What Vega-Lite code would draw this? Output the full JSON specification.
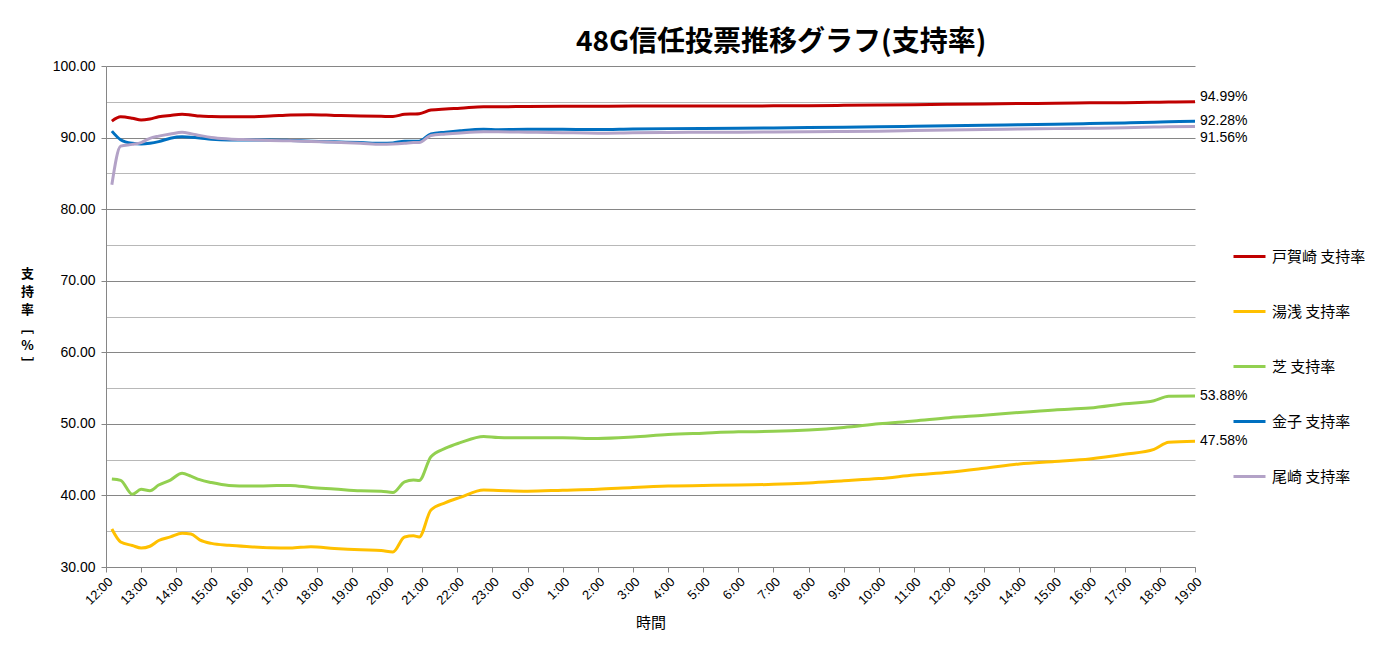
{
  "$schema": "https://vega.github.io/schema/vega-lite/v6.json",
  "width": 1089,
  "height": 501,
  "autosize": {"type": "none"},
  "padding": {"left": 106, "top": 66, "right": 189, "bottom": 85},
  "background": "white",
  "title": {
    "text": "48G信任投票推移グラフ(支持率)",
    "font": "Noto Sans CJK JP",
    "fontSize": 28,
    "fontWeight": "bold",
    "color": "#000000",
    "anchor": "start",
    "frame": "group",
    "dx": 470,
    "offset": 2
  },
  "config": {
    "view": {"stroke": null}
  },
  "datasets": {
    "votes": [
      {"t": "2013-06-08T12:10", "tg": 92.3, "yu": 35.3, "sh": 42.3, "ka": 90.9, "oz": 83.4},
      {"t": "2013-06-08T12:25", "tg": 92.9, "yu": 33.5, "sh": 42.1, "ka": 89.7, "oz": 88.8},
      {"t": "2013-06-08T12:45", "tg": 92.7, "yu": 33.0, "sh": 40.15, "ka": 89.2, "oz": 89.05},
      {"t": "2013-06-08T13:00", "tg": 92.45, "yu": 32.65, "sh": 40.85, "ka": 89.1, "oz": 89.3},
      {"t": "2013-06-08T13:15", "tg": 92.6, "yu": 32.9, "sh": 40.66, "ka": 89.2, "oz": 89.9},
      {"t": "2013-06-08T13:30", "tg": 92.9, "yu": 33.7, "sh": 41.45, "ka": 89.43, "oz": 90.2},
      {"t": "2013-06-08T13:50", "tg": 93.1, "yu": 34.2, "sh": 42.15, "ka": 89.9, "oz": 90.5},
      {"t": "2013-06-08T14:10", "tg": 93.25, "yu": 34.7, "sh": 43.1, "ka": 90.1, "oz": 90.73},
      {"t": "2013-06-08T14:25", "tg": 93.15, "yu": 34.6, "sh": 42.7, "ka": 90.05, "oz": 90.55},
      {"t": "2013-06-08T14:40", "tg": 93.0, "yu": 33.8, "sh": 42.2, "ka": 89.95, "oz": 90.3},
      {"t": "2013-06-08T15:00", "tg": 92.95, "yu": 33.3, "sh": 41.8, "ka": 89.75, "oz": 90.0},
      {"t": "2013-06-08T15:30", "tg": 92.92, "yu": 33.03, "sh": 41.4, "ka": 89.66, "oz": 89.8},
      {"t": "2013-06-08T16:05", "tg": 92.9, "yu": 32.84, "sh": 41.3, "ka": 89.66, "oz": 89.7},
      {"t": "2013-06-08T16:40", "tg": 93.0, "yu": 32.7, "sh": 41.35, "ka": 89.66, "oz": 89.6},
      {"t": "2013-06-08T17:15", "tg": 93.15, "yu": 32.65, "sh": 41.4, "ka": 89.6, "oz": 89.55},
      {"t": "2013-06-08T17:50", "tg": 93.2, "yu": 32.84, "sh": 41.1, "ka": 89.5, "oz": 89.45},
      {"t": "2013-06-08T18:30", "tg": 93.1, "yu": 32.6, "sh": 40.9, "ka": 89.4, "oz": 89.35},
      {"t": "2013-06-08T19:15", "tg": 93.0, "yu": 32.4, "sh": 40.66, "ka": 89.3, "oz": 89.2},
      {"t": "2013-06-08T19:50", "tg": 92.97, "yu": 32.3, "sh": 40.6, "ka": 89.2, "oz": 89.06},
      {"t": "2013-06-08T20:10", "tg": 92.95, "yu": 32.1, "sh": 40.4, "ka": 89.25, "oz": 89.1},
      {"t": "2013-06-08T20:30", "tg": 93.25, "yu": 34.2, "sh": 41.9, "ka": 89.5, "oz": 89.2},
      {"t": "2013-06-08T20:45", "tg": 93.3, "yu": 34.35, "sh": 42.15, "ka": 89.5, "oz": 89.3},
      {"t": "2013-06-08T20:55", "tg": 93.34, "yu": 34.2, "sh": 42.1, "ka": 89.5, "oz": 89.3},
      {"t": "2013-06-08T21:15", "tg": 93.85, "yu": 37.96, "sh": 45.4, "ka": 90.5, "oz": 90.3},
      {"t": "2013-06-08T21:40", "tg": 94.0, "yu": 39.0, "sh": 46.6, "ka": 90.75, "oz": 90.5},
      {"t": "2013-06-08T22:05", "tg": 94.1, "yu": 39.73, "sh": 47.37, "ka": 90.95, "oz": 90.65},
      {"t": "2013-06-08T22:45", "tg": 94.3, "yu": 40.76, "sh": 48.25, "ka": 91.15, "oz": 90.8},
      {"t": "2013-06-08T23:10", "tg": 94.3, "yu": 40.7, "sh": 48.1, "ka": 91.1, "oz": 90.8},
      {"t": "2013-06-09T00:00", "tg": 94.35, "yu": 40.6, "sh": 48.05, "ka": 91.15, "oz": 90.75},
      {"t": "2013-06-09T01:00", "tg": 94.38, "yu": 40.72, "sh": 48.05, "ka": 91.15, "oz": 90.68},
      {"t": "2013-06-09T02:00", "tg": 94.38, "yu": 40.85, "sh": 47.95, "ka": 91.12, "oz": 90.62},
      {"t": "2013-06-09T03:00", "tg": 94.4, "yu": 41.1, "sh": 48.15, "ka": 91.2, "oz": 90.68},
      {"t": "2013-06-09T04:00", "tg": 94.4, "yu": 41.3, "sh": 48.5, "ka": 91.25, "oz": 90.72},
      {"t": "2013-06-09T05:00", "tg": 94.42, "yu": 41.4, "sh": 48.7, "ka": 91.28, "oz": 90.75},
      {"t": "2013-06-09T06:00", "tg": 94.42, "yu": 41.45, "sh": 48.88, "ka": 91.3, "oz": 90.75},
      {"t": "2013-06-09T07:00", "tg": 94.43, "yu": 41.55, "sh": 48.95, "ka": 91.35, "oz": 90.78},
      {"t": "2013-06-09T08:00", "tg": 94.45, "yu": 41.75, "sh": 49.15, "ka": 91.4, "oz": 90.8},
      {"t": "2013-06-09T09:00", "tg": 94.5, "yu": 42.05, "sh": 49.5, "ka": 91.45, "oz": 90.85},
      {"t": "2013-06-09T10:00", "tg": 94.55, "yu": 42.35, "sh": 50.0, "ka": 91.5, "oz": 90.9},
      {"t": "2013-06-09T11:00", "tg": 94.6, "yu": 42.85, "sh": 50.4, "ka": 91.58, "oz": 90.98},
      {"t": "2013-06-09T12:00", "tg": 94.65, "yu": 43.25, "sh": 50.85, "ka": 91.65, "oz": 91.05},
      {"t": "2013-06-09T13:00", "tg": 94.7, "yu": 43.8, "sh": 51.2, "ka": 91.72, "oz": 91.12},
      {"t": "2013-06-09T14:00", "tg": 94.75, "yu": 44.4, "sh": 51.6, "ka": 91.8, "oz": 91.2},
      {"t": "2013-06-09T15:00", "tg": 94.8, "yu": 44.75, "sh": 51.95, "ka": 91.85, "oz": 91.25},
      {"t": "2013-06-09T16:00", "tg": 94.85, "yu": 45.1, "sh": 52.2, "ka": 91.95, "oz": 91.3},
      {"t": "2013-06-09T17:00", "tg": 94.88, "yu": 45.75, "sh": 52.8, "ka": 92.05, "oz": 91.38},
      {"t": "2013-06-09T17:50", "tg": 94.93, "yu": 46.44, "sh": 53.24, "ka": 92.15, "oz": 91.47},
      {"t": "2013-06-09T18:15", "tg": 94.96, "yu": 47.42, "sh": 53.85, "ka": 92.22, "oz": 91.52},
      {"t": "2013-06-09T19:00", "tg": 94.99, "yu": 47.58, "sh": 53.88, "ka": 92.28, "oz": 91.56}
    ],
    "ends": [
      {"t": "2013-06-09T19:00", "series": "tg", "value": 94.99, "label": "94.99%"},
      {"t": "2013-06-09T19:00", "series": "yu", "value": 47.58, "label": "47.58%"},
      {"t": "2013-06-09T19:00", "series": "sh", "value": 53.88, "label": "53.88%"},
      {"t": "2013-06-09T19:00", "series": "ka", "value": 92.28, "label": "92.28%"},
      {"t": "2013-06-09T19:00", "series": "oz", "value": 91.56, "label": "91.56%"}
    ]
  },
  "encoding": {
    "x": {
      "field": "t",
      "type": "temporal",
      "scale": {
        "domain": [
          {"year": 2013, "month": 6, "date": 8, "hours": 12},
          {"year": 2013, "month": 6, "date": 9, "hours": 19}
        ]
      },
      "axis": {
        "title": "時間",
        "titleFont": "Noto Sans CJK JP",
        "titleFontSize": 15,
        "titleFontWeight": "normal",
        "titleColor": "#000000",
        "titlePadding": 8,
        "format": "%-H:%M",
        "tickCount": 31,
        "labelAngle": -45,
        "labelAlign": "right",
        "labelBaseline": "top",
        "labelPadding": 3,
        "labelFontSize": 13,
        "labelColor": "#000000",
        "labelOverlap": false,
        "labelFlush": false,
        "grid": false,
        "domainColor": "#868686",
        "tickColor": "#868686",
        "tickSize": 5
      }
    },
    "y": {
      "field": "value",
      "type": "quantitative",
      "scale": {"domain": [30, 100], "nice": false},
      "axis": {
        "values": [30, 35, 40, 45, 50, 55, 60, 65, 70, 75, 80, 85, 90, 95, 100],
        "labelExpr": "datum.value % 10 === 0 ? format(datum.value, '.2f') : ''",
        "labelFontSize": 14,
        "labelColor": "#000000",
        "labelPadding": 6,
        "gridColor": {"condition": {"test": "datum.value % 10 === 0", "value": "#868686"}, "value": "#b8b8b8"},
        "tickOpacity": {"condition": {"test": "datum.value % 10 === 0", "value": 1}, "value": 0},
        "tickColor": "#868686",
        "tickSize": 5,
        "domainColor": "#868686",
        "title": ["支", "持", "率", "﹇", "%", "﹈"],
        "titleAngle": 0,
        "titleAlign": "center",
        "titleBaseline": "top",
        "titleX": -79,
        "titleY": 201,
        "titleLineHeight": 18,
        "titleFont": "Noto Sans CJK JP",
        "titleFontSize": 13,
        "titleFontWeight": "bold",
        "titleColor": "#000000"
      }
    }
  },
  "layer": [
    {
      "data": {"name": "votes"},
      "transform": [{"fold": ["tg", "yu", "sh", "ka", "oz"], "as": ["series", "value"]}],
      "mark": {"type": "line", "interpolate": "monotone", "strokeWidth": 3},
      "encoding": {
        "color": {
          "field": "series",
          "type": "nominal",
          "scale": {
            "domain": ["tg", "yu", "sh", "ka", "oz"],
            "range": ["#C00000", "#FFC000", "#92D050", "#0070C0", "#B3A2C7"]
          },
          "legend": {
            "orient": "none",
            "legendX": 1126,
            "legendY": 173,
            "title": null,
            "symbolType": "stroke",
            "symbolSize": 1024,
            "symbolStrokeWidth": 3,
            "labelExpr": "datum.label === 'tg' ? '戸賀崎 支持率' : datum.label === 'yu' ? '湯浅 支持率' : datum.label === 'sh' ? '芝 支持率' : datum.label === 'ka' ? '金子 支持率' : '尾崎 支持率'",
            "labelFont": "Noto Sans CJK JP",
            "labelFontSize": 15,
            "labelColor": "#000000",
            "labelOffset": 5,
            "rowPadding": 29
          }
        }
      }
    },
    {
      "data": {"name": "ends"},
      "transform": [{"filter": "datum.series !== 'tg' && datum.series !== 'oz'"}],
      "mark": {"type": "text", "align": "left", "baseline": "middle", "dx": 5, "fontSize": 14, "color": "#000000"},
      "encoding": {"text": {"field": "label"}}
    },
    {
      "data": {"name": "ends"},
      "transform": [{"filter": "datum.series === 'tg'"}],
      "mark": {"type": "text", "align": "left", "baseline": "middle", "dx": 5, "dy": -5, "fontSize": 14, "color": "#000000"},
      "encoding": {"text": {"field": "label"}}
    },
    {
      "data": {"name": "ends"},
      "transform": [{"filter": "datum.series === 'oz'"}],
      "mark": {"type": "text", "align": "left", "baseline": "middle", "dx": 5, "dy": 12, "fontSize": 14, "color": "#000000"},
      "encoding": {"text": {"field": "label"}}
    }
  ]
}
